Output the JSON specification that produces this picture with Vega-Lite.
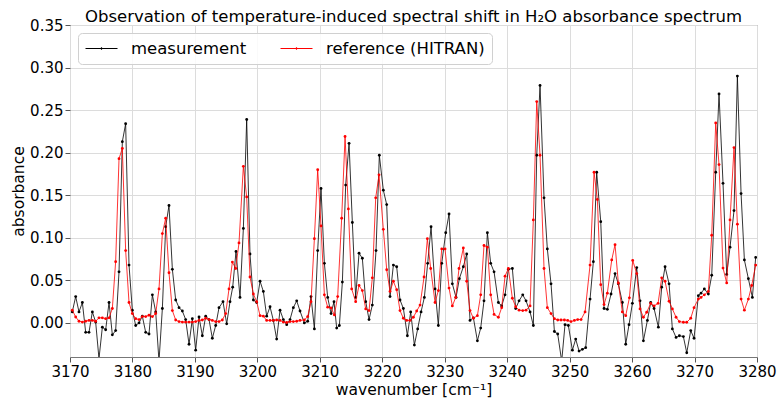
{
"$schema": "https://vega.github.io/schema/vega-lite/v6.json",
"width": 687, "height": 332,
"autosize": {"type": "none"},
"padding": {"left": 70, "top": 25, "right": 20, "bottom": 41},
"background": "white",
"config": {
  "font": "DejaVu Sans",
  "view": {"stroke": "#777", "strokeWidth": 1},
  "axis": {"labelFontSize": 15, "titleFontSize": 15.5, "titleFontWeight": "normal", "labelColor": "black", "titleColor": "black", "tickColor": "#555", "tickSize": 5, "domain": false, "gridColor": "#dcdcdc", "gridWidth": 1, "labelPadding": 3, "labelFlush": false}
},
"title": {"text": "Observation of temperature-induced spectral shift in H₂O absorbance spectrum", "fontSize": 16.5, "fontWeight": "normal", "color": "black", "offset": 3, "dy": 10, "anchor": "middle"},
"data": {"values": [
{"x":3170.37,"s":"m","y":0.013},{"x":3170.91,"s":"m","y":0.031},{"x":3171.44,"s":"m","y":0.013},{"x":3171.98,"s":"m","y":0.024},{"x":3172.51,"s":"m","y":-0.011},{"x":3173.04,"s":"m","y":-0.011},{"x":3173.58,"s":"m","y":0.013},{"x":3174.11,"s":"m","y":0.001},{"x":3174.64,"s":"m","y":-0.042},{"x":3175.18,"s":"m","y":-0.005},{"x":3175.71,"s":"m","y":-0.008},{"x":3176.25,"s":"m","y":0.024},{"x":3176.78,"s":"m","y":-0.014},{"x":3177.31,"s":"m","y":-0.009},{"x":3177.85,"s":"m","y":0.060},{"x":3178.38,"s":"m","y":0.213},{"x":3178.91,"s":"m","y":0.234},{"x":3179.45,"s":"m","y":0.068},{"x":3179.98,"s":"m","y":0.015},{"x":3180.52,"s":"m","y":-0.003},{"x":3181.05,"s":"m","y":0.000},
{"x":3181.58,"s":"m","y":0.008},{"x":3182.12,"s":"m","y":-0.011},{"x":3182.65,"s":"m","y":-0.013},{"x":3183.19,"s":"m","y":0.033},{"x":3183.72,"s":"m","y":0.013},{"x":3184.25,"s":"m","y":-0.045},{"x":3184.79,"s":"m","y":0.017},{"x":3185.32,"s":"m","y":0.113},{"x":3185.85,"s":"m","y":0.138},{"x":3186.39,"s":"m","y":0.063},{"x":3186.92,"s":"m","y":0.027},{"x":3187.46,"s":"m","y":0.018},{"x":3187.99,"s":"m","y":0.014},{"x":3188.52,"s":"m","y":0.004},{"x":3189.06,"s":"m","y":-0.025},{"x":3189.59,"s":"m","y":0.005},{"x":3190.12,"s":"m","y":-0.032},{"x":3190.66,"s":"m","y":0.007},{"x":3191.19,"s":"m","y":-0.015},{"x":3191.73,"s":"m","y":0.008},{"x":3192.26,"s":"m","y":0.004},{"x":3192.79,"s":"m","y":-0.018},{"x":3193.33,"s":"m","y":-0.003},{"x":3193.86,"s":"m","y":0.018},
{"x":3194.50,"s":"m","y":0.025},{"x":3195.09,"s":"m","y":-0.001},{"x":3195.62,"s":"m","y":0.025},{"x":3196.05,"s":"m","y":0.042},{"x":3196.58,"s":"m","y":0.084},{"x":3197.22,"s":"m","y":0.030},{"x":3197.76,"s":"m","y":0.111},{"x":3198.29,"s":"m","y":0.239},{"x":3198.82,"s":"m","y":0.081},{"x":3199.36,"s":"m","y":0.027},{"x":3199.89,"s":"m","y":0.024},{"x":3200.43,"s":"m","y":0.049},{"x":3200.96,"s":"m","y":0.037},{"x":3201.49,"s":"m","y":0.008},{"x":3202.03,"s":"m","y":0.019},{"x":3202.56,"s":"m","y":0.003},{"x":3203.09,"s":"m","y":-0.019},{"x":3203.63,"s":"m","y":0.015},{"x":3204.16,"s":"m","y":0.004},{"x":3204.70,"s":"m","y":-0.002},{"x":3205.23,"s":"m","y":0.004},{"x":3205.76,"s":"m","y":0.018},{"x":3206.30,"s":"m","y":0.026},{"x":3206.83,"s":"m","y":0.014},
{"x":3207.52,"s":"m","y":0.000},{"x":3208.06,"s":"m","y":0.002},{"x":3208.59,"s":"m","y":0.031},{"x":3209.13,"s":"m","y":-0.007},{"x":3209.66,"s":"m","y":0.085},{"x":3210.19,"s":"m","y":0.158},{"x":3210.73,"s":"m","y":0.070},{"x":3211.26,"s":"m","y":0.030},{"x":3211.80,"s":"m","y":0.011},{"x":3212.27,"s":"m","y":0.025},{"x":3212.70,"s":"m","y":-0.006},{"x":3213.13,"s":"m","y":-0.003},{"x":3213.61,"s":"m","y":0.048},{"x":3214.14,"s":"m","y":0.162},{"x":3214.68,"s":"m","y":0.211},{"x":3215.21,"s":"m","y":0.118},{"x":3215.74,"s":"m","y":0.030},{"x":3216.28,"s":"m","y":0.082},{"x":3216.81,"s":"m","y":0.076},{"x":3217.35,"s":"m","y":0.025},{"x":3217.88,"s":"m","y":0.004},{"x":3218.41,"s":"m","y":0.021},{"x":3219.00,"s":"m","y":0.085},{"x":3219.53,"s":"m","y":0.197},
{"x":3220.17,"s":"m","y":0.156},{"x":3220.71,"s":"m","y":0.139},{"x":3221.24,"s":"m","y":0.031},{"x":3221.78,"s":"m","y":0.068},{"x":3222.31,"s":"m","y":0.066},{"x":3222.84,"s":"m","y":0.027},{"x":3223.38,"s":"m","y":0.017},{"x":3224.02,"s":"m","y":-0.015},{"x":3224.55,"s":"m","y":0.013},{"x":3225.14,"s":"m","y":-0.026},{"x":3225.67,"s":"m","y":-0.007},{"x":3226.21,"s":"m","y":0.013},{"x":3226.74,"s":"m","y":0.030},{"x":3227.27,"s":"m","y":0.070},{"x":3227.81,"s":"m","y":0.113},{"x":3228.45,"s":"m","y":0.040},{"x":3228.98,"s":"m","y":-0.003},{"x":3229.52,"s":"m","y":0.070},{"x":3230.16,"s":"m","y":0.106},{"x":3230.69,"s":"m","y":0.128},{"x":3231.22,"s":"m","y":0.046},{"x":3231.81,"s":"m","y":0.030},{"x":3232.34,"s":"m","y":0.052},
{"x":3232.98,"s":"m","y":0.066},{"x":3233.52,"s":"m","y":0.081},{"x":3234.05,"s":"m","y":0.003},{"x":3234.59,"s":"m","y":0.006},{"x":3235.23,"s":"m","y":-0.021},{"x":3235.76,"s":"m","y":-0.006},{"x":3236.29,"s":"m","y":0.026},{"x":3236.83,"s":"m","y":0.106},{"x":3237.36,"s":"m","y":0.070},{"x":3237.90,"s":"m","y":0.060},{"x":3238.59,"s":"m","y":0.024},{"x":3239.12,"s":"m","y":0.020},{"x":3239.66,"s":"m","y":0.033},{"x":3240.19,"s":"m","y":0.063},{"x":3240.83,"s":"m","y":0.064},{"x":3241.36,"s":"m","y":0.017},{"x":3241.90,"s":"m","y":0.026},{"x":3242.49,"s":"m","y":0.033},{"x":3243.02,"s":"m","y":0.026},{"x":3243.66,"s":"m","y":0.013},{"x":3244.19,"s":"m","y":-0.003},{"x":3244.73,"s":"m","y":0.197},{"x":3245.26,"s":"m","y":0.279},
{"x":3245.90,"s":"m","y":0.147},{"x":3246.43,"s":"m","y":0.087},{"x":3247.02,"s":"m","y":0.046},{"x":3247.56,"s":"m","y":-0.010},{"x":3248.09,"s":"m","y":-0.013},{"x":3248.73,"s":"m","y":-0.045},{"x":3249.26,"s":"m","y":-0.002},{"x":3249.80,"s":"m","y":-0.003},{"x":3250.44,"s":"m","y":-0.032},{"x":3250.97,"s":"m","y":-0.019},{"x":3251.51,"s":"m","y":-0.033},{"x":3252.04,"s":"m","y":-0.031},{"x":3252.57,"s":"m","y":-0.029},{"x":3253.27,"s":"m","y":0.028},{"x":3253.80,"s":"m","y":0.072},{"x":3254.33,"s":"m","y":0.177},{"x":3254.98,"s":"m","y":0.119},{"x":3255.51,"s":"m","y":0.017},{"x":3256.04,"s":"m","y":0.016},{"x":3256.63,"s":"m","y":0.034},{"x":3257.27,"s":"m","y":0.058},{"x":3257.80,"s":"m","y":0.046},
{"x":3258.44,"s":"m","y":0.024},{"x":3258.98,"s":"m","y":-0.025},{"x":3259.51,"s":"m","y":-0.002},{"x":3260.05,"s":"m","y":0.023},{"x":3260.74,"s":"m","y":0.065},{"x":3261.27,"s":"m","y":0.026},{"x":3261.81,"s":"m","y":-0.021},{"x":3262.45,"s":"m","y":0.003},{"x":3262.98,"s":"m","y":0.024},{"x":3263.52,"s":"m","y":0.017},{"x":3264.21,"s":"m","y":-0.005},{"x":3264.74,"s":"m","y":0.042},{"x":3265.28,"s":"m","y":0.066},{"x":3265.92,"s":"m","y":0.046},{"x":3266.45,"s":"m","y":-0.007},{"x":3267.04,"s":"m","y":-0.017},{"x":3267.57,"s":"m","y":-0.015},{"x":3268.21,"s":"m","y":-0.016},{"x":3268.75,"s":"m","y":-0.035},{"x":3269.39,"s":"m","y":-0.009},{"x":3269.92,"s":"m","y":-0.018},{"x":3270.61,"s":"m","y":0.032},
{"x":3271.04,"s":"m","y":0.035},{"x":3271.57,"s":"m","y":0.040},{"x":3272.21,"s":"m","y":0.034},{"x":3272.75,"s":"m","y":0.056},{"x":3273.39,"s":"m","y":0.177},{"x":3273.92,"s":"m","y":0.269},{"x":3274.56,"s":"m","y":0.164},{"x":3275.15,"s":"m","y":0.057},{"x":3275.68,"s":"m","y":0.089},{"x":3276.32,"s":"m","y":0.132},{"x":3276.86,"s":"m","y":0.290},{"x":3277.45,"s":"m","y":0.152},{"x":3277.98,"s":"m","y":0.074},{"x":3278.62,"s":"m","y":0.052},{"x":3279.26,"s":"m","y":0.030},{"x":3279.79,"s":"m","y":0.077},
{"x":3170.37,"s":"r","y":0.015},{"x":3170.91,"s":"r","y":0.007},{"x":3171.44,"s":"r","y":0.002},{"x":3171.98,"s":"r","y":0.001},{"x":3172.51,"s":"r","y":0.002},{"x":3173.04,"s":"r","y":0.003},{"x":3173.58,"s":"r","y":0.003},{"x":3174.11,"s":"r","y":0.002},{"x":3174.64,"s":"r","y":0.006},{"x":3175.18,"s":"r","y":0.006},{"x":3175.71,"s":"r","y":0.005},{"x":3176.25,"s":"r","y":0.006},{"x":3176.78,"s":"r","y":0.017},{"x":3177.31,"s":"r","y":0.072},{"x":3177.85,"s":"r","y":0.193},{"x":3178.38,"s":"r","y":0.205},{"x":3178.91,"s":"r","y":0.085},{"x":3179.45,"s":"r","y":0.024},{"x":3179.98,"s":"r","y":0.011},{"x":3180.52,"s":"r","y":0.005},{"x":3181.05,"s":"r","y":0.004},
{"x":3181.58,"s":"r","y":0.0075},{"x":3182.12,"s":"r","y":0.0075},{"x":3182.65,"s":"r","y":0.009},{"x":3183.19,"s":"r","y":0.0075},{"x":3183.72,"s":"r","y":0.011},{"x":3184.25,"s":"r","y":0.040},{"x":3184.79,"s":"r","y":0.105},{"x":3185.32,"s":"r","y":0.123},{"x":3185.85,"s":"r","y":0.059},{"x":3186.39,"s":"r","y":0.0145},{"x":3186.92,"s":"r","y":0.0035},{"x":3187.46,"s":"r","y":0.0016},{"x":3187.99,"s":"r","y":0.001},{"x":3188.52,"s":"r","y":0.001},{"x":3189.06,"s":"r","y":0.001},{"x":3189.59,"s":"r","y":0.001},{"x":3190.12,"s":"r","y":0.0016},{"x":3190.66,"s":"r","y":0.003},{"x":3191.19,"s":"r","y":0.0035},{"x":3191.73,"s":"r","y":0.0055},{"x":3192.26,"s":"r","y":0.004},{"x":3192.79,"s":"r","y":0.003},{"x":3193.33,"s":"r","y":0.0016},{"x":3193.86,"s":"r","y":0.0016},
{"x":3194.39,"s":"r","y":0.0035},{"x":3194.93,"s":"r","y":0.011},{"x":3195.46,"s":"r","y":0.040},{"x":3196.00,"s":"r","y":0.0715},{"x":3196.53,"s":"r","y":0.064},{"x":3197.06,"s":"r","y":0.094},{"x":3197.76,"s":"r","y":0.184},{"x":3198.29,"s":"r","y":0.148},{"x":3198.82,"s":"r","y":0.054},{"x":3199.36,"s":"r","y":0.034},{"x":3199.89,"s":"r","y":0.025},{"x":3200.43,"s":"r","y":0.0086},{"x":3200.96,"s":"r","y":0.008},{"x":3201.49,"s":"r","y":0.003},{"x":3202.03,"s":"r","y":0.003},{"x":3202.56,"s":"r","y":0.003},{"x":3203.09,"s":"r","y":0.0035},{"x":3203.63,"s":"r","y":0.003},{"x":3204.16,"s":"r","y":0.001},{"x":3204.70,"s":"r","y":0.0005},{"x":3205.23,"s":"r","y":0.0016},{"x":3205.76,"s":"r","y":0.0016},{"x":3206.30,"s":"r","y":0.002},{"x":3206.83,"s":"r","y":0.003},
{"x":3207.52,"s":"r","y":0.0035},{"x":3208.06,"s":"r","y":0.0075},{"x":3208.59,"s":"r","y":0.025},{"x":3209.13,"s":"r","y":0.099},{"x":3209.66,"s":"r","y":0.180},{"x":3210.19,"s":"r","y":0.114},{"x":3210.73,"s":"r","y":0.033},{"x":3211.26,"s":"r","y":0.0185},{"x":3211.80,"s":"r","y":0.0177},{"x":3212.33,"s":"r","y":0.0094},{"x":3212.86,"s":"r","y":0.031},{"x":3213.50,"s":"r","y":0.123},{"x":3214.04,"s":"r","y":0.219},{"x":3214.57,"s":"r","y":0.134},{"x":3215.10,"s":"r","y":0.040},{"x":3215.74,"s":"r","y":0.025},{"x":3216.28,"s":"r","y":0.044},{"x":3216.81,"s":"r","y":0.038},{"x":3217.35,"s":"r","y":0.0165},{"x":3217.88,"s":"r","y":0.0145},{"x":3218.41,"s":"r","y":0.053},{"x":3218.95,"s":"r","y":0.147},{"x":3219.48,"s":"r","y":0.174},
{"x":3220.17,"s":"r","y":0.110},{"x":3220.71,"s":"r","y":0.0625},{"x":3221.24,"s":"r","y":0.037},{"x":3221.78,"s":"r","y":0.049},{"x":3222.31,"s":"r","y":0.039},{"x":3222.84,"s":"r","y":0.0145},{"x":3223.38,"s":"r","y":0.0055},{"x":3223.91,"s":"r","y":0.003},{"x":3224.44,"s":"r","y":0.003},{"x":3224.98,"s":"r","y":0.0067},{"x":3225.51,"s":"r","y":0.014},{"x":3226.05,"s":"r","y":0.021},{"x":3226.69,"s":"r","y":0.054},{"x":3227.22,"s":"r","y":0.099},{"x":3227.75,"s":"r","y":0.064},{"x":3228.45,"s":"r","y":0.024},{"x":3228.98,"s":"r","y":0.038},{"x":3229.52,"s":"r","y":0.087},{"x":3230.05,"s":"r","y":0.087},{"x":3230.69,"s":"r","y":0.041},{"x":3231.22,"s":"r","y":0.020},{"x":3231.76,"s":"r","y":0.030},{"x":3232.29,"s":"r","y":0.064},
{"x":3232.98,"s":"r","y":0.088},{"x":3233.52,"s":"r","y":0.049},{"x":3234.05,"s":"r","y":0.0145},{"x":3234.59,"s":"r","y":0.0055},{"x":3235.23,"s":"r","y":0.0086},{"x":3235.76,"s":"r","y":0.033},{"x":3236.29,"s":"r","y":0.091},{"x":3236.83,"s":"r","y":0.089},{"x":3237.36,"s":"r","y":0.033},{"x":3237.90,"s":"r","y":0.010},{"x":3238.59,"s":"r","y":0.0067},{"x":3239.12,"s":"r","y":0.018},{"x":3239.66,"s":"r","y":0.055},{"x":3240.19,"s":"r","y":0.064},{"x":3240.83,"s":"r","y":0.029},{"x":3241.36,"s":"r","y":0.019},{"x":3241.90,"s":"r","y":0.015},{"x":3242.49,"s":"r","y":0.0145},{"x":3243.02,"s":"r","y":0.015},{"x":3243.66,"s":"r","y":0.020},{"x":3244.19,"s":"r","y":0.121},{"x":3244.73,"s":"r","y":0.260},{"x":3245.26,"s":"r","y":0.197},
{"x":3245.90,"s":"r","y":0.064},{"x":3246.43,"s":"r","y":0.018},{"x":3247.02,"s":"r","y":0.011},{"x":3247.56,"s":"r","y":0.005},{"x":3248.09,"s":"r","y":0.0035},{"x":3248.62,"s":"r","y":0.0035},{"x":3249.16,"s":"r","y":0.0035},{"x":3249.69,"s":"r","y":0.003},{"x":3250.22,"s":"r","y":0.0016},{"x":3250.76,"s":"r","y":0.003},{"x":3251.29,"s":"r","y":0.004},{"x":3251.83,"s":"r","y":0.004},{"x":3252.47,"s":"r","y":0.013},{"x":3253.27,"s":"r","y":0.068},{"x":3253.91,"s":"r","y":0.177},{"x":3254.44,"s":"r","y":0.145},{"x":3254.98,"s":"r","y":0.045},{"x":3255.51,"s":"r","y":0.0216},{"x":3256.04,"s":"r","y":0.035},{"x":3256.74,"s":"r","y":0.074},{"x":3257.27,"s":"r","y":0.092},{"x":3257.80,"s":"r","y":0.047},
{"x":3258.44,"s":"r","y":0.013},{"x":3258.98,"s":"r","y":0.0086},{"x":3259.57,"s":"r","y":0.0295},{"x":3260.10,"s":"r","y":0.0735},{"x":3260.74,"s":"r","y":0.058},{"x":3261.27,"s":"r","y":0.0165},{"x":3261.81,"s":"r","y":0.0067},{"x":3262.34,"s":"r","y":0.0126},{"x":3262.98,"s":"r","y":0.023},{"x":3263.52,"s":"r","y":0.020},{"x":3264.16,"s":"r","y":0.023},{"x":3264.74,"s":"r","y":0.053},{"x":3265.28,"s":"r","y":0.049},{"x":3265.92,"s":"r","y":0.0255},{"x":3266.45,"s":"r","y":0.0165},{"x":3267.04,"s":"r","y":0.0067},{"x":3267.57,"s":"r","y":0.0016},{"x":3268.21,"s":"r","y":0.0008},{"x":3268.75,"s":"r","y":0.0008},{"x":3269.39,"s":"r","y":0.0055},{"x":3269.92,"s":"r","y":0.018},{"x":3270.61,"s":"r","y":0.028},
{"x":3271.04,"s":"r","y":0.030},{"x":3271.57,"s":"r","y":0.033},{"x":3272.21,"s":"r","y":0.037},{"x":3272.75,"s":"r","y":0.103},{"x":3273.39,"s":"r","y":0.235},{"x":3273.92,"s":"r","y":0.186},{"x":3274.56,"s":"r","y":0.0645},{"x":3275.15,"s":"r","y":0.047},{"x":3275.68,"s":"r","y":0.121},{"x":3276.32,"s":"r","y":0.206},{"x":3276.86,"s":"r","y":0.116},{"x":3277.45,"s":"r","y":0.028},{"x":3277.98,"s":"r","y":0.015},{"x":3278.62,"s":"r","y":0.028},{"x":3279.15,"s":"r","y":0.044},{"x":3279.79,"s":"r","y":0.068}
]},
"encoding": {
  "x": {"field": "x", "type": "quantitative", "scale": {"domain": [3170, 3280], "nice": false, "zero": false},
        "axis": {"values": [3170,3180,3190,3200,3210,3220,3230,3240,3250,3260,3270,3280], "format": "d", "title": "wavenumber [cm⁻¹]", "titlePadding": 3, "labelPadding": 2}},
  "y": {"field": "y", "type": "quantitative", "scale": {"domain": [-0.04, 0.35], "nice": false, "zero": false},
        "axis": {"values": [0,0.05,0.1,0.15,0.2,0.25,0.3,0.35], "format": ".2f", "title": "absorbance", "titlePadding": 3, "labelPadding": 2}},
  "color": {"field": "s", "type": "nominal", "scale": {"domain": ["m", "r"], "range": ["black", "red"]},
            "legend": {"title": null, "orient": "top-left", "offset": 8, "direction": "horizontal",
                       "labelExpr": "datum.label == 'm' ? 'measurement' : 'reference (HITRAN)'",
                       "labelFontSize": 16.5, "labelColor": "black", "labelOffset": 29,
                       "symbolType": "M-1,0H3M0.9,0A0.1,0.1,0,1,1,1.1,0A0.1,0.1,0,1,1,0.9,0",
                       "symbolSize": 256, "symbolStrokeWidth": 1, "columnPadding": 31,
                       "padding": 7, "fillColor": "rgba(255,255,255,0.85)", "strokeColor": "#d0d0d0", "cornerRadius": 4}}
},
"layer": [
  {"transform": [{"filter": "datum.s == 'm'"}], "mark": {"type": "line", "strokeWidth": 0.8, "clip": true}},
  {"transform": [{"filter": "datum.s == 'm'"}], "mark": {"type": "point", "filled": true, "size": 8, "opacity": 1, "clip": true}},
  {"transform": [{"filter": "datum.s == 'r'"}], "mark": {"type": "line", "strokeWidth": 0.8, "clip": true}},
  {"transform": [{"filter": "datum.s == 'r'"}], "mark": {"type": "point", "filled": true, "size": 8, "opacity": 1, "clip": true}}
]
}
